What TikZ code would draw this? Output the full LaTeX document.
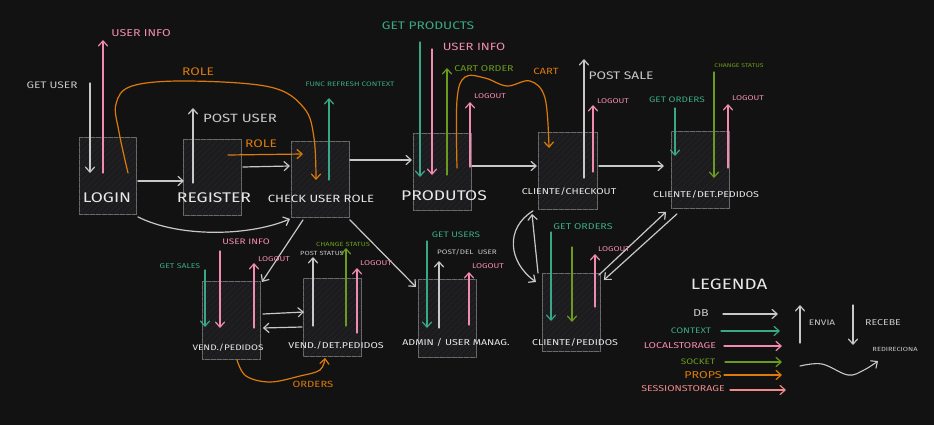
\documentclass[tikz,border=0pt]{standalone}
\usepackage{fontspec}
\setmainfont[FakeStretch=1.25]{Fira Sans}
\usetikzlibrary{arrows.meta,patterns.meta,calc}
\newcommand\myfs[1]{\fontsize{#1}{#1}\selectfont}
\definecolor{bg}{HTML}{121212}
\definecolor{boxfill}{HTML}{1C1C1E}
\definecolor{hatch}{HTML}{2A2A2D}
\definecolor{boxline}{HTML}{6A6A6A}
\definecolor{dbc}{HTML}{C8C8C8}
\definecolor{txt}{HTML}{E8E8E8}
\definecolor{ctxc}{HTML}{3AA886}
\definecolor{lsc}{HTML}{F28BB0}
\definecolor{sockc}{HTML}{6B9B1E}
\definecolor{propc}{HTML}{DC7A0C}
\definecolor{ssc}{HTML}{F08A8A}
\tikzset{
  box/.style={draw=boxline, line width=0.9pt, fill=boxfill,
    postaction={pattern={Lines[angle=45,distance=4pt,line width=0.4pt]}, pattern color=hatch},
    anchor=north west, inner sep=0pt, minimum width=58, minimum height=77},
  arr/.style={line width=1.2pt, line cap=round, -{Straight Barb[length=5pt,width=9pt,line cap=round]}},
  db/.style={arr, draw=dbc},
  ctx/.style={arr, draw=ctxc},
  ls/.style={arr, draw=lsc},
  so/.style={arr, draw=sockc},
  pr/.style={arr, draw=propc},
  ss/.style={arr, draw=ssc},
  lbl/.style={inner sep=0pt},
  blbl/.style={inner sep=0pt, text=txt},
}
\begin{document}
\begin{tikzpicture}[x=1pt,y=-1pt]
\fill[bg] (0,0) rectangle (934,425);
\useasboundingbox (0,0) rectangle (934,425);

% boxes
\node[box, minimum width=57] (login) at (79,137) {};
\node[box, minimum height=76] (register) at (183,139) {};
\node[box, minimum height=76] (check) at (291,141) {};
\node[box] (produtos) at (413,133) {};
\node[box, minimum width=59] (checkout) at (538,132) {};
\node[box] (detped) at (671,131) {};
\node[box, minimum height=78] (vendped) at (202,281) {};
\node[box, minimum height=78] (venddet) at (303,278) {};
\node[box, minimum height=78] (admin) at (418,279) {};
\node[box, minimum height=78] (cliped) at (542,273) {};

% box-to-box connectors
\draw[db] ($(login.north east)+(1,44)$) -- ($(register.north west)+(1,42)$);
\draw[db] ($(register.north east)+(1,28)$) -- ($(check.north west)+(-1,25)$);
\draw[db] ($(check.north east)+(0,19)$) -- ($(produtos.north west)+(-1,27)$);
\draw[db] ($(produtos.north east)+(0,33)$) -- ($(checkout.north west)+(-1,34)$);
\draw[db] ($(checkout.north east)+(1,34)$) -- ($(detped.north west)+(-7,35)$);
\draw[db] ($(login.south east)+(1,2)$) .. controls (180,238) and (250,236) .. ($(check.south west)+(-1,1)$);
\draw[db] ($(check.south west)+(12,2)$) -- ($(vendped.north east)+(1,1)$);
\draw[db] ($(check.south east)+(0,2)$) -- ($(admin.north west)+(-2,8)$);
\draw[db] ($(vendped.north east)+(2,33)$) -- ($(venddet.north west)+(1,34)$);
\draw[db] ($(venddet.north west)+(-1,49)$) -- ($(vendped.north east)+(2,47)$);
\draw[db] ($(checkout.south west)+(-5,1)$) .. controls (505,228) and (508,262) .. ($(cliped.north west)+(-6,9)$);
\draw[db] ($(cliped.north west)+(-4,0)$) -- ($(checkout.south west)+(-6,4)$);
\draw[db] ($(cliped.north east)+(-2,2)$) -- ($(detped.south west)+(-5,3)$);
\draw[db] ($(detped.south west)+(6,5)$) -- ($(cliped.north east)+(3,7)$);

% LOGIN tags
\draw[db] (90,83) -- (90,173);
\node[lbl, text=dbc, font=\myfs{9.5}] (lgetuser) at (52,85) {GET USER};
\draw[ls] (103,173) -- (103,40);
\node[lbl, text=lsc, font=\myfs{10}] (luserinfo) at (141,33) {USER INFO};
\draw[pr] plot[smooth, tension=0.6] coordinates {($(login.north west)+(49,36)$) (119,132) (116,104) (132,86) (187,81) (270,87) (304,108) (314,138) ($(check.north west)+(25,39)$)};
\node[lbl, text=propc, font=\myfs{11}] (lrole) at (198,72) {ROLE};

% REGISTER tags
\draw[db] (193,183) -- (193,108);
\node[lbl, text=dbc, font=\myfs{12}] (lpostuser) at (240,118) {POST USER};
\draw[pr] ($(register.north west)+(45,16)$) -- ($(check.north west)+(12,13)$);
\node[lbl, text=propc, font=\myfs{11}] (lrole2) at (261,144) {ROLE};

% CHECK tags
\draw[ctx] (329,180) -- (329,98);
\node[lbl, text=ctxc, font=\myfs{6.5}] (lfunc) at (350,84) {FUNC REFRESH CONTEXT};

% PRODUTOS tags
\draw[ctx] (420,42) -- (420,177);
\node[lbl, text=ctxc, font=\myfs{11}] (lgetprod) at (428,26) {GET PRODUCTS};
\draw[ls] (432,49) -- (432,175);
\node[lbl, text=lsc, font=\myfs{10.5}] (luserinfo2) at (474,47) {USER INFO};
\draw[so] (447,175) -- (447,68);
\node[lbl, text=sockc, font=\myfs{8.5}] (lcartorder) at (484,69) {CART ORDER};
\draw[pr] plot[smooth, tension=0.6] coordinates {($(produtos.north west)+(44,35)$) (457,100) (465,77) (485,78) (507,86) (530,81) (545,98) ($(checkout.north west)+(11,16)$)};
\node[lbl, text=propc, font=\myfs{9}] (lcart) at (546,71) {CART};
\draw[ls] (470,167) -- (470,102);
\node[lbl, text=lsc, font=\myfs{7}] (llogout1) at (490,96) {LOGOUT};

% CHECKOUT tags
\draw[db] (584,178) -- (584,59);
\node[lbl, text=dbc, font=\myfs{11}] (lpostsale) at (621,76) {POST SALE};
\draw[ls] (593,172) -- (593,105);
\node[lbl, text=lsc, font=\myfs{7}] (llogout2) at (613,101) {LOGOUT};

% DET PEDIDOS tags
\draw[ctx] (675,108) -- (675,156);
\node[lbl, text=ctxc, font=\myfs{8}] (lgetorders) at (677,100) {GET ORDERS};
\draw[so] (714,72) -- (714,178);
\node[lbl, text=sockc, font=\myfs{5.5}] (lchange1) at (739,66) {CHANGE STATUS};
\draw[ls] (728,168) -- (728,104);
\node[lbl, text=lsc, font=\myfs{7}] (llogout3) at (748,98) {LOGOUT};

% CLIENTE/PEDIDOS tags
\draw[ctx] (551,232) -- (551,321);
\node[lbl, text=ctxc, font=\myfs{8.5}] (lgetorders2) at (583,227) {GET ORDERS};
\draw[so] (572,247) -- (572,322);
\draw[ls] (595,307) -- (595,254);
\node[lbl, text=lsc, font=\myfs{7}] (llogout4) at (614,249) {LOGOUT};

% ADMIN tags
\draw[ctx] (427,241) -- (427,328);
\node[lbl, text=ctxc, font=\myfs{8}] (lgetusers) at (456,235) {GET USERS};
\draw[db] (439,328) -- (439,261);
\node[lbl, text=dbc, font=\myfs{6.5}] (lpostdel) at (467,252) {POST/DEL\ \ USER};
\draw[ls] (469,325) -- (469,272);
\node[lbl, text=lsc, font=\myfs{7}] (llogout5) at (488,266) {LOGOUT};

% VEND/PEDIDOS tags
\draw[ctx] (205,270) -- (205,327);
\node[lbl, text=ctxc, font=\myfs{7}] (lgetsales) at (180,266) {GET SALES};
\draw[ls] (220,251) -- (220,328);
\node[lbl, text=lsc, font=\myfs{8}] (luserinfo3) at (246,242) {USER INFO};
\draw[ls] (254,328) -- (254,263);
\node[lbl, text=lsc, font=\myfs{7}] (llogout6) at (274,259) {LOGOUT};
\draw[pr] plot[smooth, tension=0.6] coordinates {($(vendped.south west)+(35,0)$) (246,376) (270,382) (300,376) (320,370) ($(venddet.south west)+(22,1)$)};
\node[lbl, text=propc, font=\myfs{9}] (lorders) at (313,384) {ORDERS};

% VEND/DET tags
\draw[db] (313,326) -- (313,257);
\node[lbl, text=dbc, font=\myfs{6}] (lpoststatus) at (322,253) {POST STATUS};
\draw[so] (346,326) -- (346,248);
\node[lbl, text=sockc, font=\myfs{6}] (lchange2) at (343,244) {CHANGE STATUS};
\draw[ls] (357,333) -- (357,268);
\node[lbl, text=lsc, font=\myfs{7}] (llogout7) at (376,263) {LOGOUT};

% box labels
\node[blbl, font=\myfs{14}] (tlogin) at (107,198) {LOGIN};
\node[blbl, font=\myfs{14}] (tregister) at (214,198) {REGISTER};
\node[blbl, font=\myfs{10.5}] (tcheck) at (321,199) {CHECK USER ROLE};
\node[blbl, font=\myfs{14}] (tprodutos) at (444,196) {PRODUTOS};
\node[blbl, font=\myfs{8.5}] (tcheckout) at (569,192) {CLIENTE/CHECKOUT};
\node[blbl, font=\myfs{8.5}] (tdetped) at (706,195) {CLIENTE/DET.PEDIDOS};
\node[blbl, font=\myfs{8}] (tvendped) at (228,348) {VEND./PEDIDOS};
\node[blbl, font=\myfs{8.5}] (tvenddet) at (336,346) {VEND./DET.PEDIDOS};
\node[blbl, font=\myfs{8.5}] (tadmin) at (456,343) {ADMIN / USER MANAG.};
\node[blbl, font=\myfs{8.5}] (tcliped) at (575,343) {CLIENTE/PEDIDOS};

% legend
\node[blbl, font=\myfs{15}] (legenda) at (729,284) {LEGENDA};
\node[lbl, text=dbc, font=\myfs{10}] (kdb) at (701,313) {DB};
\coordinate (kdbe) at (778,314);
\draw[db] (723,314) -- (kdbe);
\node[lbl, text=ctxc, font=\myfs{8}] (kctx) at (691,331) {CONTEXT};
\coordinate (kctxe) at (780,331);
\draw[ctx] (721,331) -- (kctxe);
\node[lbl, text=lsc, font=\myfs{8.5}] (kls) at (680,346) {LOCALSTORAGE};
\coordinate (klse) at (782,346);
\draw[ls] (724,346) -- (klse);
\node[lbl, text=sockc, font=\myfs{8}] (kso) at (698,362) {SOCKET};
\coordinate (ksoe) at (782,362);
\draw[so] (725,362) -- (ksoe);
\node[lbl, text=propc, font=\myfs{10}] (kpr) at (703,375) {PROPS};
\coordinate (kpre) at (782,375);
\draw[pr] (724,375) -- (kpre);
\node[lbl, text=ssc, font=\myfs{8.5}] (kss) at (683,389) {SESSIONSTORAGE};
\coordinate (ksse) at (786,390);
\draw[ss] (730,390) -- (ksse);
\coordinate (kenv) at (800,305);
\draw[db] (800,343) -- (kenv);
\node[lbl, text=dbc, font=\myfs{8}] (kenvia) at (822,323) {ENVIA};
\coordinate (krec) at (853,345);
\draw[db] (853,305) -- (krec);
\node[lbl, text=dbc, font=\myfs{8.5}] (krecebe) at (883,323) {RECEBE};
\node[lbl, text=dbc, font=\myfs{6}] (kredir) at (895,349) {REDIRECIONA};
\draw[db, line width=1.1pt] plot[smooth, tension=0.6] coordinates {(800,366) (822,364) (848,375) (864,370) (878,361)};
\end{tikzpicture}
\end{document}
